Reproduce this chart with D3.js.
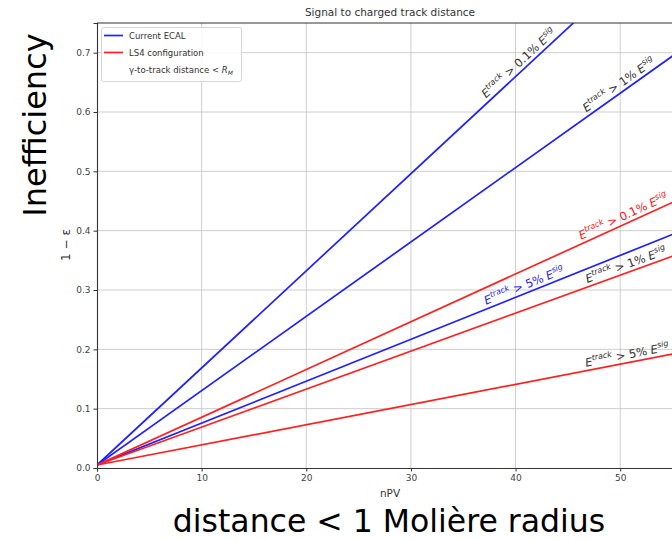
<!DOCTYPE html>
<html>
<head>
<meta charset="utf-8">
<script src="https://cdn.jsdelivr.net/npm/d3@7"></script>
<style>
  html, body { margin: 0; padding: 0; background: #fff; }
  svg { display: block; }
  text { font-family: "DejaVu Sans", sans-serif; }
</style>
</head>
<body>
<svg id="chart" width="672" height="540"></svg>
<script>
// nPV values at which each straight-line inefficiency estimate is given
const nPV = [0, 60];

// 1 - efficiency, Current ECAL (blue) and LS4 configuration (red)
const ecalTrack01 = [0.005, 0.987];
const ecalTrack1  = [0.005, 0.757];
const ecalTrack5  = [0.005, 0.429];
const ls4Track01  = [0.005, 0.488];
const ls4Track1   = [0.005, 0.389];
const ls4Track5   = [0.005, 0.209];

const seriesValues = [ecalTrack01, ecalTrack1, ecalTrack5, ls4Track01, ls4Track1, ls4Track5];
const seriesGroup = ["Current ECAL", "Current ECAL", "Current ECAL", "LS4 configuration", "LS4 configuration", "LS4 configuration"];
const thresholds = ["0.1%", "1%", "5%", "0.1%", "1%", "5%"];

const xTicks = [0, 10, 20, 30, 40, 50];
const yTicks = [0.0, 0.1, 0.2, 0.3, 0.4, 0.5, 0.6, 0.7];

// where along each line (in nPV) its threshold label sits, and the label colour
const labelAt = [40.8, 50.3, 41.1, 50.6, 50.8, 50.8];
const labelColor = ["#333", "#333", "#2a2ae8", "#f02020", "#333", "#333"];

const groupColor = { "Current ECAL": "#1f1fff", "LS4 configuration": "#ff2020" };

const svg = d3.select("#chart");
const margin = { left: 97, top: 23, right: 683, bottom: 468 };

const x = d3.scaleLinear().domain([0, 56]).range([margin.left, margin.right]);
const y = d3.scaleLinear().domain([0, 0.75]).range([margin.bottom, margin.top]);

svg.append("defs").append("clipPath").attr("id", "plot-clip")
  .append("rect")
  .attr("x", margin.left).attr("y", margin.top)
  .attr("width", margin.right - margin.left).attr("height", margin.bottom - margin.top);

// grid
const grid = svg.append("g").attr("stroke", "#c8c8c8").attr("stroke-width", 0.9);
grid.selectAll(".gx").data(xTicks.slice(1)).join("line")
  .attr("x1", d => x(d)).attr("x2", d => x(d))
  .attr("y1", margin.top).attr("y2", margin.bottom);
grid.selectAll(".gy").data(yTicks.slice(1)).join("line")
  .attr("x1", margin.left).attr("x2", margin.right)
  .attr("y1", d => y(d)).attr("y2", d => y(d));

// lines
const line = d3.line().x((d, i) => x(nPV[i])).y(d => y(d));
const plot = svg.append("g").attr("clip-path", "url(#plot-clip)");
plot.selectAll("path.series").data(seriesValues).join("path")
  .attr("class", "series")
  .attr("fill", "none")
  .attr("stroke", (d, i) => groupColor[seriesGroup[i]])
  .attr("stroke-width", 1.7)
  .attr("d", d => line(d));

// axes
const xAxis = d3.axisBottom(x).tickValues(xTicks).tickFormat(d3.format("d")).tickSize(3.5).tickPadding(3);
const yAxis = d3.axisLeft(y).tickValues(yTicks).tickFormat(d3.format(".1f")).tickSize(3.5).tickPadding(3);

const gx = svg.append("g").attr("transform", `translate(0,${margin.bottom})`).call(xAxis);
const gy = svg.append("g").attr("transform", `translate(${margin.left},0)`).call(yAxis);
[gx, gy].forEach(g => {
  g.select(".domain").attr("stroke", "#333").attr("stroke-width", 1.1);
  g.selectAll(".tick line").attr("stroke", "#333");
  g.selectAll(".tick text").attr("fill", "#444").attr("font-size", 9)
    .attr("font-family", "DejaVu Sans, sans-serif");
});
// top spine
svg.append("line").attr("x1", margin.left).attr("x2", margin.right)
  .attr("y1", margin.top).attr("y2", margin.top)
  .attr("stroke", "#333").attr("stroke-width", 1.1);

// axis titles and chart title
svg.append("text").attr("x", 390).attr("y", 16).attr("text-anchor", "middle")
  .attr("font-size", 10.5).attr("fill", "#333").text("Signal to charged track distance");
svg.append("text").attr("x", 390).attr("y", 497).attr("text-anchor", "middle")
  .attr("font-size", 10.5).attr("fill", "#333").text("nPV");
svg.append("text")
  .attr("transform", "translate(70,245) rotate(-90)")
  .attr("text-anchor", "middle").attr("font-size", 12).attr("fill", "#333")
  .text("1 − ε");

// threshold labels along the lines
seriesValues.forEach((vals, i) => {
  const px0 = x(nPV[0]), py0 = y(vals[0]);
  const px1 = x(nPV[1]), py1 = y(vals[1]);
  const ang = Math.atan2(py1 - py0, px1 - px0) * 180 / Math.PI;
  const n = labelAt[i];
  const v = vals[0] + (vals[1] - vals[0]) * (n - nPV[0]) / (nPV[1] - nPV[0]);
  const t = svg.append("text")
    .attr("transform", `translate(${x(n)},${y(v)}) rotate(${ang})`)
    .attr("dy", -4)
    .attr("text-anchor", "middle")
    .attr("font-size", 11.5)
    .attr("fill", labelColor[i]);
  t.append("tspan").attr("font-style", "italic").text("E");
  t.append("tspan").attr("font-style", "italic").attr("font-size", 8).attr("dy", -5).text("track");
  t.append("tspan").attr("dy", 5).text(` > ${thresholds[i]} `);
  t.append("tspan").attr("font-style", "italic").text("E");
  t.append("tspan").attr("font-style", "italic").attr("font-size", 8).attr("dy", -5).text("sig");
});

// legend
const legend = svg.append("g");
legend.append("rect").attr("x", 101.5).attr("y", 27.5).attr("width", 140).attr("height", 54)
  .attr("rx", 2).attr("fill", "#fff").attr("fill-opacity", 0.85)
  .attr("stroke", "#d5d5d5").attr("stroke-width", 1);
const legendRows = ["Current ECAL", "LS4 configuration"];
legendRows.forEach((name, i) => {
  const yy = 35.5 + i * 17;
  legend.append("line").attr("x1", 104).attr("x2", 123).attr("y1", yy).attr("y2", yy)
    .attr("stroke", groupColor[name]).attr("stroke-width", 1.7);
  legend.append("text").attr("x", 129).attr("y", yy + 3).attr("font-size", 8.5)
    .attr("fill", "#333").text(name);
});
const lt = legend.append("text").attr("x", 129).attr("y", 73).attr("font-size", 8.5).attr("fill", "#333");
lt.append("tspan").text("γ-to-track distance < ");
lt.append("tspan").attr("font-style", "italic").text("R");
lt.append("tspan").attr("font-style", "italic").attr("font-size", 6).attr("dy", 2).text("M");

// large annotations
svg.append("text")
  .attr("transform", "translate(46,125) rotate(-90)")
  .attr("text-anchor", "middle")
  .attr("font-family", "Open Sans, sans-serif")
  .attr("font-size", 32).attr("fill", "#000")
  .text("Inefficiency");
svg.append("text")
  .attr("x", 389).attr("y", 532)
  .attr("text-anchor", "middle")
  .attr("font-family", "Open Sans, sans-serif")
  .attr("font-size", 31.5).attr("fill", "#000")
  .text("distance < 1 Molière radius");
</script>
</body>
</html>
